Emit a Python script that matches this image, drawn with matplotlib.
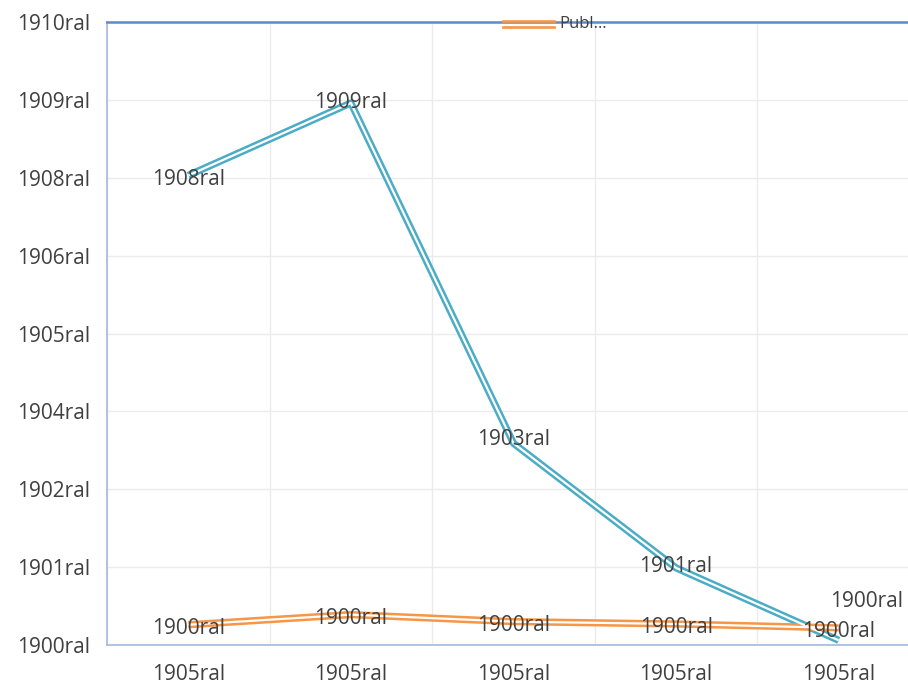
import matplotlib
matplotlib.use("Agg")
import matplotlib.pyplot as plt
from matplotlib.lines import Line2D
import numpy as np

# categories (all shown as the same odd date-formatted label)
categories = ["1905ral", "1905ral", "1905ral", "1905ral", "1905ral"]
y_tick_labels = ["1900ral", "1901ral", "1902ral", "1904ral", "1905ral",
                 "1906ral", "1908ral", "1909ral", "1910ral"]

# series values in axis units (0..8)
blue_vals = [6.03, 6.96, 2.59, 0.99, 0.06]
blue_labels = ["1908ral", "1909ral", "1903ral", "1901ral", "1900ral"]
orange_vals = [0.26, 0.39, 0.30, 0.27, 0.22]
orange_labels = ["1900ral", "1900ral", "1900ral", "1900ral", "1900ral"]

blue = "#4BACC6"
orange = "#F79646"
txt = "#404040"
plt.rcParams['font.family'] = ['Open Sans', 'DejaVu Sans']

fig = plt.figure(figsize=(9.08, 6.86), dpi=100)
# plot area runs past the right edge of the image
ax = fig.add_axes([107/908, 41/686, (920-107)/908, (645-22)/686])

x = np.arange(len(categories))


def double_line(xs, ys, col):
    ax.plot(xs, ys, color=col, lw=5.2, solid_capstyle="butt", zorder=3)
    ax.plot(xs, ys, color="white", lw=1.6, solid_capstyle="butt", zorder=4)


double_line(x, blue_vals, blue)
double_line(x, orange_vals, orange)

blue_off = [(0, -0.05), (0, 0.0), (0, 0.05), (0, 0.02), (0.17, 0.5)]
for i, (v, t) in enumerate(zip(blue_vals, blue_labels)):
    dx, dy = blue_off[i]
    ax.text(i + dx, v + dy, t, ha="center", va="center", fontsize=15,
            color=txt, zorder=5)
for i, (v, t) in enumerate(zip(orange_vals, orange_labels)):
    ax.text(i, v - 0.05, t, ha="center", va="center", fontsize=15,
            color=txt, zorder=5)

ax.set_xlim(-0.5, 4.5)
ax.set_ylim(0, 8)
ax.set_xticks(x)
ax.set_xticklabels(categories, fontsize=15, color=txt)
ax.set_yticks(np.arange(9))
ax.set_yticklabels(y_tick_labels, fontsize=15, color=txt)
ax.tick_params(length=0)
ax.tick_params(axis="x", pad=14)
ax.tick_params(axis="y", pad=12)
ax.set_xticks(np.arange(-0.5, 5, 1), minor=True)
ax.grid(True, which="minor", axis="x", color="#EBEBEB", lw=1)
ax.grid(True, which="major", axis="y", color="#EBEBEB", lw=1)
ax.tick_params(which="minor", length=0)
ax.set_axisbelow(True)

ax.spines["top"].set_color("#5B8BC9")
ax.spines["top"].set_linewidth(1.8)
ax.spines["left"].set_color("#A9BFE0")
ax.spines["left"].set_linewidth(1.3)
ax.spines["bottom"].set_color("#A9BFE0")
ax.spines["bottom"].set_linewidth(1.3)
ax.spines["right"].set_visible(False)

# legend: single truncated entry over the top border
lx0, lx1, ly = 503, 554, 686 - 24
for off in (0.0042, -0.0042):
    fig.lines.append(Line2D([lx0/908, lx1/908], [ly/686 + off, ly/686 + off],
                            color=orange, lw=1.9, transform=fig.transFigure,
                            zorder=6))
fig.text(559/908, ly/686, "Publ\u2026", ha="left", va="center",
         fontsize=12, color=txt)

fig.savefig("out.png", dpi=100)
